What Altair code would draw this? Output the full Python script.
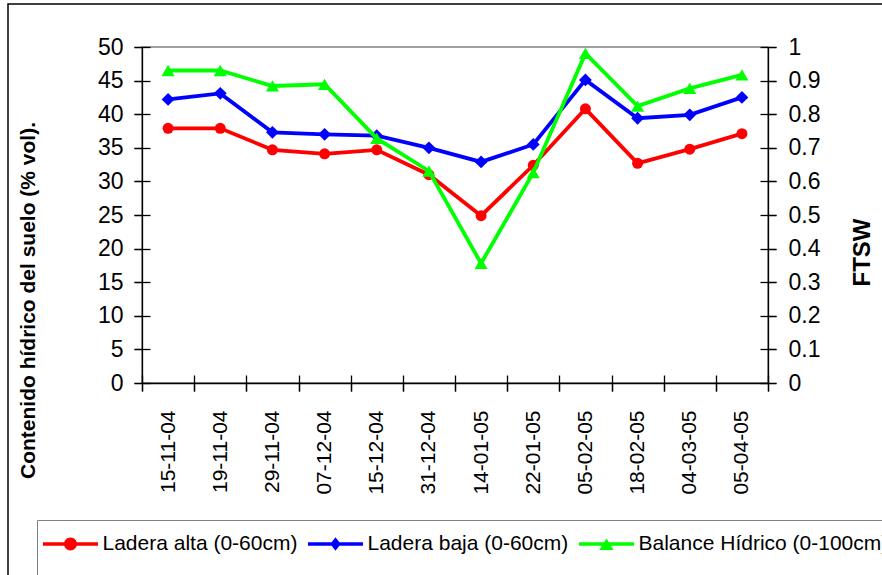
import altair as alt
import pandas as pd

# Sampling dates (x axis categories)
fechas = ["15-11-04", "19-11-04", "29-11-04", "07-12-04", "15-12-04", "31-12-04",
          "14-01-05", "22-01-05", "05-02-05", "18-02-05", "04-03-05", "05-04-05"]

# Soil water content (% vol) on the left axis
ladera_alta = [37.9, 37.9, 34.7, 34.1, 34.7, 31.0, 24.9, 32.4, 40.8, 32.7, 34.8, 37.1]
ladera_baja = [42.2, 43.1, 37.3, 37.0, 36.8, 35.0, 32.9, 35.5, 45.1, 39.4, 39.9, 42.5]

# FTSW from the water balance on the right axis
balance = [0.930, 0.930, 0.884, 0.889, 0.728, 0.631, 0.356, 0.626, 0.981, 0.824, 0.877, 0.917]

series = ["Ladera alta (0-60cm)", "Ladera baja (0-60cm)", "Balance Hídrico (0-100cm)"]
colores = ["#FF0000", "#0000FF", "#00FF00"]
formas = ["circle", "diamond", "triangle-up"]
tamanos = [121, 165, 170]

ticks_izq = [0, 5, 10, 15, 20, 25, 30, 35, 40, 45, 50]
ticks_der = [0, 0.1, 0.2, 0.3, 0.4, 0.5, 0.6, 0.7, 0.8, 0.9, 1]

FONT = "Liberation Sans"

izq = pd.DataFrame({
    "fecha": fechas * 2,
    "serie": [series[0]] * len(fechas) + [series[1]] * len(fechas),
    "valor": ladera_alta + ladera_baja,
})
der = pd.DataFrame({"fecha": fechas, "serie": [series[2]] * len(fechas), "valor": balance})

# Legend glyphs: a short line with the series marker on it (unit = 18 px)
bar = "M-1.53,-0.1H1.53V0.1H-1.53Z"
glifos = [
    bar + "M0.36,0A0.36,0.36,0,1,1,-0.36,0A0.36,0.36,0,1,1,0.36,0Z",
    bar + "M0,-0.38L0.29,0L0,0.38L-0.29,0Z",
    bar + "M0,-0.3L0.4,0.34L-0.4,0.34Z",
]

leyenda = alt.Legend(
    title=" ",
    titleOrient="bottom",
    titleFontSize=30,
    orient="none",
    direction="horizontal",
    legendX=-105,
    legendY=473,
    padding=6,
    strokeColor="#808080",
    fillColor="white",
    labelFont=FONT,
    labelFontSize=21,
    labelColor="black",
    labelLimit=400,
    symbolSize=1296,
    symbolStrokeWidth=0,
    symbolOpacity=1,
    symbolOffset=9.5,
    labelOffset=14,
    columnPadding=9,
)

color = alt.Color("serie:N", scale=alt.Scale(domain=series, range=colores), legend=leyenda)
banda = alt.Scale(type="band", paddingInner=0, paddingOuter=0)
esc_izq = alt.Scale(domain=[0, 50], nice=False, zero=True)
esc_der = alt.Scale(domain=[0, 1], nice=False, zero=True)

# Main axes: domain lines, labels, titles and outer half of the ticks
x_main = alt.X(
    "fecha:N", sort=fechas, scale=banda,
    axis=alt.Axis(orient="bottom", title=None, labelAngle=270, labelFontSize=21,
                  labelPadding=19, tickSize=8, tickBand="extent"),
)
x_none = alt.X("fecha:N", sort=fechas, scale=banda, axis=None)

y_izq = alt.Y(
    "valor:Q", scale=esc_izq,
    axis=alt.Axis(
        orient="left", values=ticks_izq,
        title="Contenido hídrico del suelo (% vol).",
        titleFontSize=21, titleFontWeight="bold", titleAngle=270,
        titleAlign="center", titleBaseline="middle", titleX=-114, titleY=253,
        labelFontSize=23, labelPadding=11, tickSize=8, grid=False,
    ),
)
y_der = alt.Y(
    "valor:Q", scale=esc_der,
    axis=alt.Axis(
        orient="right", values=ticks_der, format="~g",
        title="FTSW",
        titleFontSize=24, titleFontWeight="bold", titleAngle=270,
        titleAlign="center", titleBaseline="middle", titleX=94, titleY=205,
        labelFontSize=23, labelPadding=12, tickSize=8, grid=False,
    ),
)

# Inner tick axes: ticks that cross the axis lines into the plot
def eje_interior(orient, **kw):
    return alt.Axis(orient=orient, offset=-8, tickSize=16, domain=False,
                    labels=False, title=None, grid=False, **kw)


x_int = alt.X("fecha:N", sort=fechas, scale=banda,
              axis=eje_interior("bottom", tickBand="extent"))
y_izq_int = alt.Y("valor:Q", scale=esc_izq, axis=eje_interior("left", values=ticks_izq))
y_der_int = alt.Y("valor:Q", scale=esc_der, axis=eje_interior("right", values=ticks_der))

# Legend-only layer: carries the line+marker glyphs, draws nothing in the plot
guia = alt.Chart(pd.DataFrame({"serie": series})).transform_filter("false").mark_point(
    filled=True, opacity=1
).encode(
    color=color,
    shape=alt.Shape("serie:N", scale=alt.Scale(domain=series, range=glifos), legend=leyenda),
)

base_izq = alt.Chart(izq).encode(x=x_main, y=y_izq, color=color)
capa_izq = alt.layer(
    base_izq.mark_line(strokeWidth=3.8),
    *[
        base_izq.transform_filter(alt.datum.serie == series[i]).mark_point(
            filled=True, opacity=1, shape=formas[i], size=tamanos[i]
        )
        for i in range(2)
    ],
)

base_der = alt.Chart(der).encode(x=x_none, y=y_der, color=color)
capa_der = alt.layer(
    base_der.mark_line(strokeWidth=3.8),
    base_der.mark_point(filled=True, opacity=1, shape=formas[2], size=tamanos[2]),
)

# Empty layers that only carry the inner tick axes
ticks_i = alt.Chart(izq).transform_filter("false").mark_point().encode(x=x_int, y=y_izq_int)
ticks_d = alt.Chart(der).transform_filter("false").mark_point().encode(x=x_none, y=y_der_int)

# Outer frame of the figure
marco = alt.Chart(pd.DataFrame({"k": [0]})).mark_rect(
    filled=False, color="black", strokeWidth=1.5
).encode(
    x=alt.value(-134), x2=alt.value(800), y=alt.value(-43), y2=alt.value(600)
)

chart = (
    alt.layer(marco, guia, ticks_i, ticks_d, capa_izq, capa_der)
    .resolve_scale(y="independent")
    .resolve_axis(x="independent", y="independent")
    .properties(
        width=626,
        height=336,
        autosize=alt.AutoSizeParams(type="none"),
        padding={"left": 142, "top": 47, "right": 114, "bottom": 192},
        background="white",
    )
    .configure_view(stroke="#808080", strokeWidth=1.5)
    .configure_axis(
        labelFont=FONT,
        titleFont=FONT,
        labelColor="black",
        titleColor="black",
        domainColor="black",
        tickColor="black",
        domainWidth=1.3,
        tickWidth=1.3,
    )
)

chart.save("out.html", embed_options={"renderer": "svg", "actions": False})
